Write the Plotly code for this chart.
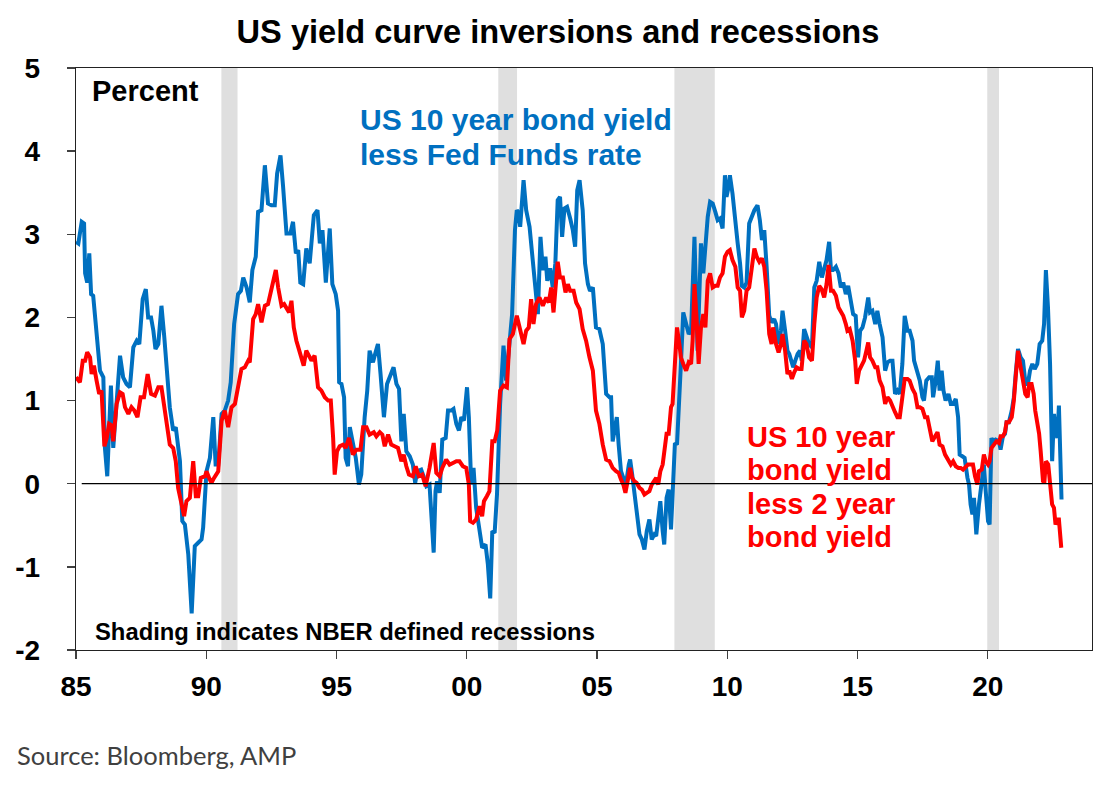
import plotly.graph_objects as go

# ---- data ----
blue_years = [
    1985.00, 1985.09, 1985.22, 1985.31, 1985.35, 1985.43, 1985.51, 1985.58, 1985.66, 1985.79,
    1985.92, 1986.05, 1986.11, 1986.20, 1986.28, 1986.34, 1986.43, 1986.56, 1986.69, 1986.81,
    1986.94, 1987.07, 1987.20, 1987.33, 1987.43, 1987.56, 1987.68, 1987.77, 1987.88, 1987.97,
    1988.05, 1988.16, 1988.28, 1988.39, 1988.48, 1988.60, 1988.73, 1988.83, 1988.99, 1989.08,
    1989.18, 1989.31, 1989.44, 1989.56, 1989.69, 1989.82, 1989.88, 1990.01, 1990.14, 1990.27,
    1990.36, 1990.46, 1990.59, 1990.71, 1990.84, 1990.94, 1991.07, 1991.22, 1991.33, 1991.42,
    1991.55,
    1991.67, 1991.77, 1991.90, 1991.99, 1992.12, 1992.25, 1992.37, 1992.50, 1992.63, 1992.72,
    1992.85, 1992.95, 1993.08, 1993.23, 1993.33, 1993.44, 1993.53, 1993.61, 1993.72, 1993.84,
    1993.97, 1994.13, 1994.27, 1994.36, 1994.46, 1994.59, 1994.74, 1994.84, 1994.97, 1995.06,
    1995.10, 1995.19, 1995.29, 1995.35, 1995.44, 1995.51, 1995.63, 1995.74, 1995.86, 1995.95,
    1996.08, 1996.18, 1996.27, 1996.40, 1996.50, 1996.59, 1996.69, 1996.82, 1996.94, 1997.07,
    1997.19, 1997.30, 1997.40, 1997.49, 1997.58, 1997.68, 1997.81, 1997.93, 1998.02, 1998.10,
    1998.25, 1998.34, 1998.45,
    1998.57, 1998.68, 1998.73, 1998.80, 1998.86, 1998.96, 1999.06, 1999.19, 1999.28, 1999.40,
    1999.49, 1999.60, 1999.70, 1999.79, 1999.89, 2000.01, 2000.08, 2000.17, 2000.26, 2000.36,
    2000.47, 2000.59, 2000.72, 2000.81, 2000.90, 2000.98, 2001.07, 2001.16, 2001.28, 2001.41,
    2001.51, 2001.64, 2001.74, 2001.85, 2001.92, 2002.00, 2002.05, 2002.18, 2002.28, 2002.41,
    2002.54, 2002.64, 2002.73, 2002.83, 2002.92, 2003.02, 2003.09, 2003.20, 2003.30, 2003.40,
    2003.49, 2003.58, 2003.66, 2003.75, 2003.85, 2003.97, 2004.07, 2004.16, 2004.24, 2004.33,
    2004.45, 2004.54, 2004.65, 2004.73, 2004.84, 2004.96, 2005.09, 2005.22, 2005.35,
    2005.48, 2005.54, 2005.60, 2005.67, 2005.76, 2005.83, 2005.92, 2006.01, 2006.11, 2006.22,
    2006.27, 2006.35, 2006.43, 2006.52, 2006.63, 2006.72, 2006.82, 2006.91, 2007.01, 2007.10,
    2007.20, 2007.27, 2007.35, 2007.43, 2007.52, 2007.58, 2007.67, 2007.75, 2007.84, 2007.90,
    2007.99, 2008.07, 2008.13, 2008.22, 2008.31, 2008.42, 2008.52, 2008.61, 2008.67, 2008.74,
    2008.86, 2008.99, 2009.08, 2009.16, 2009.25, 2009.34, 2009.44, 2009.54, 2009.63,
    2009.72, 2009.82, 2009.91, 2009.97, 2010.05, 2010.10, 2010.20, 2010.31, 2010.40, 2010.49,
    2010.56, 2010.65, 2010.74, 2010.84, 2010.95, 2011.04, 2011.16, 2011.25, 2011.33, 2011.42,
    2011.51, 2011.61, 2011.70, 2011.80, 2011.87, 2011.97, 2012.06, 2012.12, 2012.22, 2012.31,
    2012.38, 2012.44, 2012.53, 2012.61, 2012.70, 2012.79, 2012.86, 2012.95, 2013.04, 2013.14,
    2013.25, 2013.34, 2013.43, 2013.53, 2013.63, 2013.72, 2013.81, 2013.91, 2013.98, 2014.06,
    2014.17, 2014.27, 2014.36, 2014.45, 2014.55, 2014.64, 2014.74, 2014.83, 2014.93, 2015.02,
    2015.10, 2015.19, 2015.29, 2015.41, 2015.48, 2015.57, 2015.68, 2015.76, 2015.85, 2015.96,
    2016.06, 2016.15, 2016.25, 2016.34, 2016.44, 2016.53, 2016.62, 2016.72, 2016.81, 2016.92,
    2017.00, 2017.11, 2017.17, 2017.30, 2017.39, 2017.49, 2017.55, 2017.64, 2017.75, 2017.85,
    2017.90, 2018.00, 2018.08, 2018.15, 2018.23, 2018.30, 2018.38, 2018.49, 2018.58, 2018.67,
    2018.77, 2018.86, 2018.92, 2019.02, 2019.11, 2019.22, 2019.28, 2019.34, 2019.41, 2019.47,
    2019.56,
    2019.66, 2019.77, 2019.85, 2019.92, 2020.01, 2020.07, 2020.14, 2020.20, 2020.30, 2020.43,
    2020.49, 2020.58, 2020.66, 2020.72, 2020.81, 2020.92, 2021.00, 2021.07, 2021.16, 2021.26,
    2021.35, 2021.45, 2021.54, 2021.62, 2021.71, 2021.80, 2021.90, 2021.99, 2022.09, 2022.16,
    2022.23, 2022.31, 2022.39, 2022.47, 2022.54, 2022.60, 2022.67, 2022.73, 2022.83,
]
blue_vals = [
    2.91, 2.89, 3.15, 3.13, 2.53, 2.42, 2.77, 2.28, 2.26, 1.84,
    1.36, 1.28, 0.43, 0.09, 0.64, 1.18, 0.43, 0.96, 1.54, 1.28,
    1.20, 1.16, 1.64, 1.72, 1.68, 2.22, 2.34, 2.00, 2.00, 1.84,
    1.62, 1.68, 2.14, 1.76, 1.38, 0.92, 0.64, 0.68, 0.27, -0.45,
    -0.49, -0.85, -1.56, -0.75, -0.71, -0.67, -0.53, 0.15, 0.31, 0.80,
    0.23, 0.23, 0.84, 0.88, 1.00, 1.22, 1.92, 2.28, 2.32, 2.48,
    2.36,
    2.18, 2.57, 2.73, 3.27, 3.29, 3.83, 3.37, 3.35, 3.35, 3.73,
    3.95, 3.57, 3.01, 3.01, 3.15, 2.77, 2.81, 2.42, 2.40, 2.83,
    2.65, 3.23, 3.29, 2.89, 3.05, 2.42, 3.07, 2.40, 2.28, 2.08,
    1.22, 1.20, 1.04, 0.31, 0.21, 0.68, 0.51, 0.31, -0.01, 0.11,
    0.80, 1.12, 1.60, 1.46, 1.58, 1.68, 1.32, 0.80, 1.20, 1.30,
    1.40, 1.20, 1.14, 0.51, 0.84, 0.39, 0.33, 0.23, 0.01, 0.15,
    0.17, 0.09, -0.03,
    -0.01, -0.57, -0.83, -0.09, 0.03, -0.11, 0.53, 0.55, 0.88, 0.88,
    0.90, 0.72, 0.64, 0.80, 0.76, 1.16, 0.80, -0.01, 0.19, -0.29,
    -0.49, -0.77, -0.73, -0.97, -1.38, -0.57, -0.59, -0.13, 0.96, 1.66,
    1.24, 1.68, 2.04, 3.05, 3.29, 3.25, 3.09, 3.65, 3.29, 3.09,
    2.65, 2.24, 2.04, 2.97, 2.57, 2.73, 2.44, 2.59, 2.36, 2.65,
    3.41, 3.45, 2.97, 3.31, 3.33, 3.19, 3.05, 2.85, 3.53, 3.65,
    3.29, 2.65, 2.40, 2.32, 2.36, 1.88, 1.86, 1.68, 1.08,
    1.04, 1.04, 0.51, 0.64, 0.80, 0.47, 0.15, 0.07, -0.01, 0.23,
    0.29, 0.11, -0.09, -0.33, -0.61, -0.67, -0.79, -0.57, -0.43, -0.67,
    -0.61, -0.63, -0.37, -0.21, -0.57, -0.73, -0.17, -0.07, -0.55, -0.17,
    0.49, 0.47, 0.96, 1.44, 2.06, 1.92, 1.80, 1.84, 2.42, 2.97,
    1.60, 2.89, 2.53, 2.93, 3.21, 3.39, 3.37, 3.27, 3.17,
    3.19, 3.07, 3.71, 3.45, 3.57, 3.71, 3.49, 3.21, 2.89, 2.65,
    2.38, 2.36, 2.42, 3.13, 3.23, 3.29, 3.35, 3.17, 2.93, 3.05,
    2.61, 2.02, 1.94, 1.98, 1.92, 1.68, 1.84, 2.08, 1.84, 1.60,
    1.56, 1.48, 1.40, 1.48, 1.56, 1.60, 1.48, 1.86, 1.76, 1.68,
    1.64, 2.36, 2.44, 2.67, 2.48, 2.57, 2.69, 2.91, 2.57, 2.57,
    2.61, 2.53, 2.36, 2.42, 2.28, 2.38, 2.20, 2.04, 2.02, 1.52,
    1.84, 1.88, 2.00, 2.24, 2.06, 2.08, 1.92, 2.08, 1.92, 1.76,
    1.36, 1.46, 1.48, 1.48, 1.08, 1.12, 1.08, 1.44, 2.02, 1.84,
    1.84, 1.72, 1.48, 1.36, 1.24, 1.04, 1.00, 1.24, 1.28, 1.28,
    1.04, 1.24, 1.48, 1.12, 1.36, 1.12, 1.00, 1.08, 0.96, 0.96,
    1.02, 0.80, 0.35, 0.33, 0.31, 0.07, -0.01, -0.25, -0.37, -0.17,
    -0.61,
    -0.25, -0.01, 0.23, -0.09, -0.45, -0.49, 0.55, 0.51, 0.53, 0.51,
    0.41, 0.57, 0.60, 0.74, 0.74, 0.88, 1.04, 1.32, 1.62, 1.52,
    1.48, 1.20, 1.20, 1.36, 1.44, 1.38, 1.44, 1.68, 1.72, 1.92,
    2.57, 2.12, 1.44, 0.27, 0.84, 0.64, 0.55, 0.94, -0.19,
]

red_years = [
    1985.00, 1985.15, 1985.26, 1985.35, 1985.43, 1985.54, 1985.60, 1985.69, 1985.79, 1985.89,
    1985.98, 1986.09, 1986.18, 1986.27, 1986.37, 1986.43, 1986.56, 1986.69, 1986.79, 1986.88,
    1987.01, 1987.13, 1987.24, 1987.36, 1987.48, 1987.61, 1987.75, 1987.88, 1988.03, 1988.16,
    1988.28, 1988.41, 1988.51, 1988.60, 1988.73, 1988.83, 1988.92, 1989.03, 1989.15, 1989.24,
    1989.37, 1989.50, 1989.60, 1989.69, 1989.79, 1989.95, 1990.01, 1990.11, 1990.20, 1990.30,
    1990.46, 1990.59, 1990.71, 1990.84, 1990.97, 1991.10, 1991.22, 1991.35, 1991.48, 1991.61,
    1991.67, 1991.80, 1991.90, 1991.99, 1992.12, 1992.25, 1992.37, 1992.46, 1992.57, 1992.67,
    1992.76, 1992.89, 1992.99, 1993.08, 1993.18, 1993.27, 1993.36, 1993.46, 1993.59, 1993.74,
    1993.84, 1993.95, 1994.04, 1994.16, 1994.29, 1994.42, 1994.55, 1994.68, 1994.78, 1994.87,
    1994.93, 1995.02, 1995.12, 1995.25, 1995.35, 1995.48, 1995.63, 1995.76, 1995.92, 1996.02,
    1996.15, 1996.27, 1996.43, 1996.53, 1996.66, 1996.76, 1996.85, 1996.98, 1997.10, 1997.23,
    1997.36, 1997.49, 1997.58, 1997.68, 1997.78, 1997.93, 1998.04, 1998.16, 1998.29, 1998.42,
    1998.57, 1998.73, 1998.83, 1998.96, 1999.06, 1999.21, 1999.34, 1999.47, 1999.60, 1999.72,
    1999.85, 1999.98, 2000.08, 2000.13, 2000.24, 2000.36, 2000.49, 2000.59, 2000.66, 2000.77,
    2000.87, 2000.98, 2001.07, 2001.17, 2001.28, 2001.41, 2001.54, 2001.64, 2001.77, 2001.92,
    2002.05, 2002.18, 2002.28, 2002.38, 2002.47, 2002.56, 2002.66, 2002.79, 2002.92, 2003.05,
    2003.15, 2003.24, 2003.33, 2003.40, 2003.49, 2003.58, 2003.69, 2003.79, 2003.88, 2003.97,
    2004.10, 2004.20, 2004.33, 2004.45, 2004.58, 2004.71, 2004.84, 2004.96, 2005.09, 2005.22,
    2005.35,
    2005.48, 2005.60, 2005.73, 2005.83, 2005.92, 2006.01, 2006.09, 2006.18, 2006.27, 2006.35,
    2006.43, 2006.52, 2006.63, 2006.72, 2006.82, 2006.91, 2007.01, 2007.10, 2007.20, 2007.27,
    2007.35, 2007.43, 2007.52, 2007.58, 2007.67, 2007.75, 2007.84, 2007.90, 2007.99, 2008.07,
    2008.16, 2008.22, 2008.31, 2008.42, 2008.52, 2008.61, 2008.67, 2008.74, 2008.82, 2008.90,
    2008.99, 2009.08, 2009.16, 2009.25, 2009.34, 2009.44, 2009.54, 2009.63, 2009.72, 2009.82,
    2009.91, 2010.01, 2010.10, 2010.20, 2010.31, 2010.40, 2010.49, 2010.56, 2010.65, 2010.74,
    2010.84, 2010.95, 2011.04, 2011.13, 2011.23, 2011.33, 2011.42, 2011.51, 2011.61, 2011.70,
    2011.76, 2011.87, 2011.97, 2012.06, 2012.12, 2012.22, 2012.31,
    2012.38, 2012.48, 2012.57, 2012.66, 2012.76, 2012.85, 2012.95, 2013.04, 2013.14, 2013.25,
    2013.34, 2013.43, 2013.53, 2013.62, 2013.72, 2013.81, 2013.89, 2013.98, 2014.06, 2014.17,
    2014.27, 2014.36, 2014.45, 2014.55, 2014.61, 2014.70, 2014.81, 2014.91, 2014.97, 2015.06,
    2015.16, 2015.25, 2015.34, 2015.41, 2015.48, 2015.57, 2015.68, 2015.76, 2015.85, 2015.96,
    2016.06, 2016.15, 2016.25, 2016.34, 2016.44, 2016.53, 2016.62, 2016.72, 2016.81, 2016.92,
    2017.00, 2017.11, 2017.21, 2017.30, 2017.39, 2017.49, 2017.59, 2017.68, 2017.77, 2017.87,
    2017.98, 2018.07, 2018.15, 2018.26, 2018.36, 2018.47, 2018.58, 2018.67, 2018.77, 2018.87,
    2018.96, 2019.05, 2019.15, 2019.24, 2019.34, 2019.43, 2019.51, 2019.60,
    2019.66, 2019.77, 2019.85, 2019.92, 2020.01, 2020.07, 2020.14, 2020.25, 2020.33, 2020.43,
    2020.49, 2020.58, 2020.66, 2020.72, 2020.81, 2020.92, 2021.00, 2021.07, 2021.16, 2021.24,
    2021.34, 2021.44, 2021.53, 2021.59, 2021.68, 2021.76, 2021.82, 2021.90, 2021.97, 2022.03,
    2022.12, 2022.17, 2022.23, 2022.32, 2022.41, 2022.47, 2022.54, 2022.60, 2022.67, 2022.73,
    2022.82,
]
red_vals = [
    1.28, 1.22, 1.48, 1.48, 1.58, 1.52, 1.32, 1.42, 1.24, 1.08,
    1.12, 0.45, 0.55, 0.72, 0.70, 0.51, 0.96, 1.10, 1.08, 0.92,
    0.84, 0.92, 0.88, 0.80, 1.04, 1.04, 1.32, 1.08, 1.06, 1.16,
    1.16, 0.88, 0.72, 0.47, 0.43, 0.27, -0.05, -0.21, -0.39, -0.21,
    -0.17, 0.27, -0.15, -0.15, 0.07, 0.09, 0.15, 0.07, 0.01, 0.07,
    0.15, 0.76, 0.88, 0.68, 0.92, 0.96, 1.16, 1.38, 1.40, 1.48,
    1.46, 1.98, 2.04, 2.16, 1.94, 2.14, 2.16, 2.28, 2.44, 2.57,
    2.36, 2.14, 2.16, 2.12, 2.06, 2.20, 1.88, 1.72, 1.58, 1.42,
    1.60, 1.52, 1.48, 1.54, 1.16, 1.12, 1.04, 1.00, 1.00, 0.55,
    0.11, 0.39, 0.45, 0.47, 0.43, 0.55, 0.35, 0.41, 0.41, 0.68,
    0.68, 0.59, 0.62, 0.57, 0.62, 0.59, 0.45, 0.59, 0.47, 0.45,
    0.43, 0.27, 0.35, 0.21, 0.11, 0.09, 0.21, 0.09, 0.11, -0.03,
    0.19, 0.49, 0.13, 0.09, 0.19, 0.29, 0.23, 0.25, 0.27, 0.27,
    0.21, 0.19, -0.01, -0.45, -0.47, -0.43, -0.27, -0.39, -0.21, -0.15,
    -0.09, 0.51, 0.51, 0.64, 1.12, 1.18, 1.16, 1.74, 1.80, 2.02,
    1.84, 1.68, 1.84, 1.88, 2.22, 1.92, 2.16, 2.24, 2.14, 2.24,
    2.18, 2.36, 2.06, 2.32, 2.67, 2.48, 2.48, 2.30, 2.40, 2.32,
    2.32, 2.18, 2.10, 1.86, 1.72, 1.52, 1.36, 0.88, 0.72, 0.47,
    0.29,
    0.27, 0.19, 0.15, 0.13, 0.05, -0.01, -0.11, 0.07, 0.19, 0.07,
    0.03, 0.01, -0.05, -0.07, -0.13, -0.11, -0.09, -0.01, 0.03, 0.07,
    -0.01, 0.15, 0.23, 0.39, 0.60, 0.60, 0.92, 0.96, 1.44, 1.88,
    1.68, 1.52, 1.44, 1.36, 1.46, 1.44, 1.72, 2.40, 2.00, 1.44,
    1.88, 2.04, 1.88, 2.44, 2.53, 2.36, 2.38, 2.38, 2.48, 2.53,
    2.73, 2.79, 2.81, 2.69, 2.61, 2.36, 2.32, 2.00, 2.08, 2.32,
    2.36, 2.61, 2.83, 2.73, 2.67, 2.71, 2.61, 2.32, 1.80, 1.68,
    1.88, 1.68, 1.58, 1.68, 1.80, 1.60, 1.32,
    1.36, 1.26, 1.34, 1.40, 1.38, 1.38, 1.72, 1.68, 1.52, 1.48,
    1.92, 2.24, 2.38, 2.34, 2.24, 2.40, 2.63, 2.32, 2.32, 2.26,
    2.12, 2.06, 2.02, 1.92, 1.84, 1.86, 1.72, 1.48, 1.20, 1.36,
    1.44, 1.48, 1.60, 1.70, 1.52, 1.48, 1.40, 1.40, 1.24, 1.16,
    0.96, 1.04, 1.00, 0.92, 0.86, 0.80, 0.80, 1.04, 1.26, 1.26,
    1.24, 1.14, 1.08, 0.92, 0.92, 0.90, 0.80, 0.80, 0.64, 0.51,
    0.57, 0.62, 0.47, 0.45, 0.35, 0.29, 0.23, 0.27, 0.21, 0.19,
    0.19, 0.17, 0.21, 0.23, 0.23, 0.23, 0.09, -0.01,
    0.15, 0.17, 0.35, 0.27, 0.23, 0.27, 0.43, 0.49, 0.51, 0.49,
    0.57, 0.57, 0.62, 0.74, 0.74, 0.80, 1.00, 1.28, 1.60, 1.44,
    1.26, 1.08, 1.04, 1.20, 1.20, 1.08, 0.88, 0.76, 0.60, 0.39,
    0.03, 0.01, 0.27, 0.23, -0.05, -0.25, -0.29, -0.49, -0.43, -0.43,
    -0.77,
]

recession_start = [1990.58, 2001.21, 2007.97, 2019.98]
recession_end = [1991.20, 2001.93, 2009.52, 2020.43]

x_tick_vals = [1985, 1990, 1995, 2000, 2005, 2010, 2015, 2020]
x_tick_text = ["85", "90", "95", "00", "05", "10", "15", "20"]
y_tick_vals = [-2, -1, 0, 1, 2, 3, 4, 5]
y_tick_text = ["-2", "-1", "0", "1", "2", "3", "4", "5"]

title_text = "US yield curve inversions and recessions"
blue_label = ["US 10 year bond yield", "less Fed Funds rate"]
red_label = ["US 10 year", "bond yield", "less 2 year", "bond yield"]
source_text = "Source: Bloomberg, AMP"
shading_text = "Shading indicates NBER defined recessions"

# ---- styling ----
BLUE = "#0070C0"
RED = "#FF0000"
SHADE = "#DFDFDF"
FONT = "Liberation Sans, Arial, sans-serif"

fig = go.Figure()

fig.add_trace(go.Scatter(x=blue_years, y=blue_vals, mode="lines",
                         line=dict(color=BLUE, width=4), hoverinfo="skip",
                         showlegend=False))
fig.add_trace(go.Scatter(x=red_years, y=red_vals, mode="lines",
                         line=dict(color=RED, width=4), hoverinfo="skip",
                         showlegend=False))

shapes = []
for s, e in zip(recession_start, recession_end):
    shapes.append(dict(type="rect", xref="x", yref="paper", x0=s, x1=e, y0=0, y1=1,
                       fillcolor=SHADE, line=dict(width=0), layer="below"))
shapes.append(dict(type="line", xref="x", yref="y", x0=1985.22, x1=2024.0, y0=0, y1=0,
                   line=dict(color="#000000", width=1.2), layer="above"))

annotations = []
annotations.append(dict(text="Percent", xref="paper", yref="paper", x=0.0138, y=0.9605,
                        xanchor="left", yanchor="middle", showarrow=False,
                        font=dict(family=FONT, size=29, color="#000000", weight="bold")))
for i, t in enumerate(blue_label):
    annotations.append(dict(text=t, xref="paper", yref="paper", x=0.2776,
                            y=0.9107 - i * 0.0601, xanchor="left", yanchor="middle",
                            showarrow=False,
                            font=dict(family=FONT, size=30, color=BLUE, weight="bold")))
for i, t in enumerate(red_label):
    annotations.append(dict(text=t, xref="paper", yref="paper", x=0.6585,
                            y=0.366 - i * 0.0573, xanchor="left", yanchor="middle",
                            showarrow=False,
                            font=dict(family=FONT, size=29, color=RED, weight="bold")))
annotations.append(dict(text=shading_text, xref="paper", yref="paper", x=0.0167, y=0.031,
                        xanchor="left", yanchor="middle", showarrow=False,
                        font=dict(family=FONT, size=23.8, color="#000000", weight="bold")))
annotations.append(dict(text=source_text, xref="paper", yref="paper", x=-0.060, y=-0.1804,
                        xanchor="left", yanchor="middle", showarrow=False,
                        font=dict(family="Lato, Open Sans, sans-serif", size=25.5,
                                  color="#404040")))

fig.update_layout(
    width=1114, height=787, autosize=False,
    margin=dict(l=76, r=22, t=68, b=137, pad=0),
    paper_bgcolor="white", plot_bgcolor="white",
    title=dict(text=title_text, x=0.5009, xref="container",
               y=1 - 32 / 787, yref="container", xanchor="center", yanchor="middle",
               font=dict(family=FONT, size=32.6, color="#000000", weight="bold")),
    shapes=shapes, annotations=annotations,
    xaxis=dict(range=[1985, 2024], tickmode="array", tickvals=x_tick_vals,
               ticktext=x_tick_text, ticks="outside", ticklen=8, tickwidth=1.3,
               tickcolor="#404040", showline=True, linecolor="#222222", linewidth=1.3,
               mirror=True, showgrid=False, zeroline=False, ticklabelstandoff=3,
               tickfont=dict(family=FONT, size=28, color="#000000", weight="bold")),
    yaxis=dict(range=[-2, 5], tickmode="array", tickvals=y_tick_vals,
               ticktext=y_tick_text, ticks="outside", ticklen=8, tickwidth=1.3,
               tickcolor="#404040", showline=True, linecolor="#222222", linewidth=1.3,
               mirror=True, showgrid=False, zeroline=False, ticklabelstandoff=21,
               tickfont=dict(family=FONT, size=28, color="#000000", weight="bold")),
)

fig.write_html("out.html",
               config={"displayModeBar": False, "staticPlot": True},
               post_script="document.body.style.margin='0';"
                           "document.body.style.overflow='hidden';")
